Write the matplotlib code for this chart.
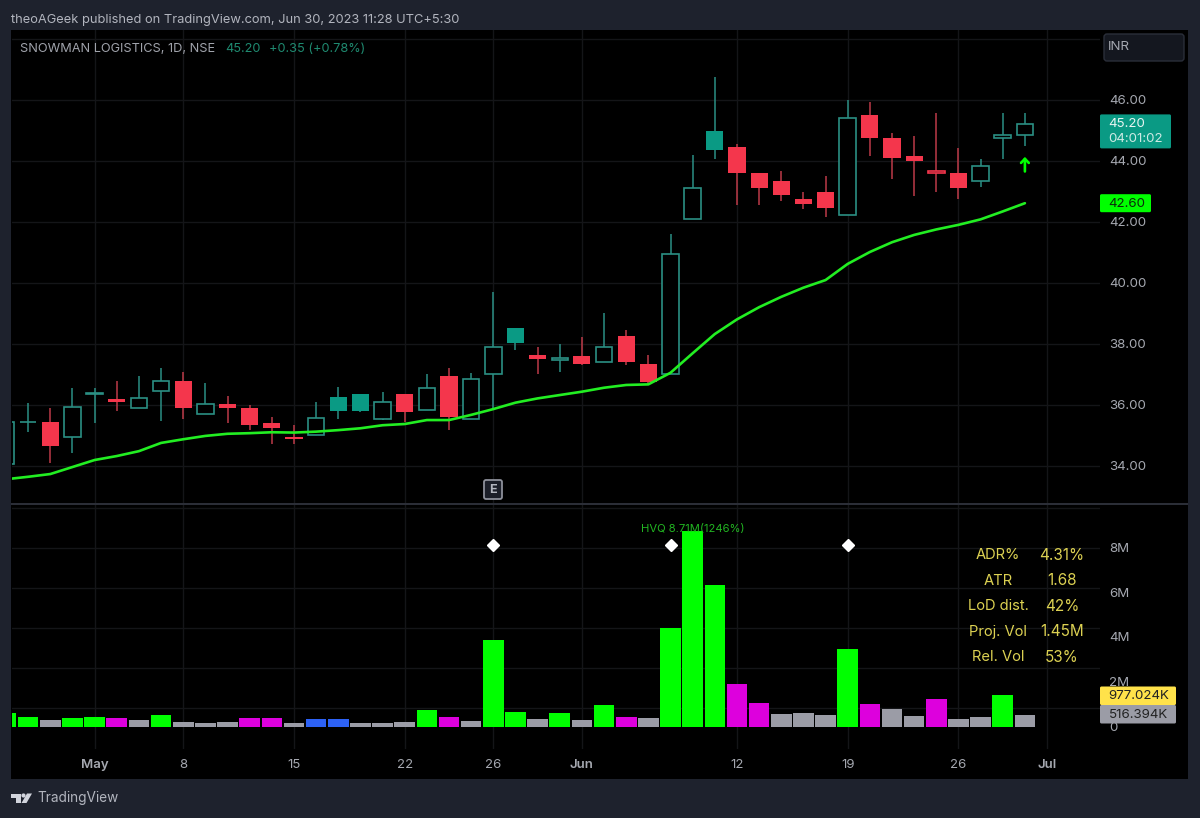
import matplotlib
matplotlib.use("Agg")
import matplotlib.pyplot as plt
from matplotlib.patches import Rectangle, FancyBboxPatch, Polygon, Circle

plt.rcParams['font.family'] = ['Inter', 'DejaVu Sans']

# ---------- data ----------
opens = [34.05,35.42,35.44,34.94,36.35,36.18,35.89,36.43,36.77,35.69,36.02,35.87,35.38,34.93,34.99,36.24,36.33,35.51,36.33,35.82,36.93,35.52,37.00,38.50,37.63,37.45,37.58,37.38,38.24,37.33,37.00,42.09,44.98,44.43,43.59,43.34,42.73,42.98,42.22,45.49,44.73,44.14,43.60,43.59,43.34,44.75,44.85]
closes = [35.44,35.44,34.63,35.93,36.37,36.07,36.22,36.77,35.87,36.02,35.89,35.33,35.23,34.88,35.57,35.78,35.78,36.07,35.76,36.53,35.58,36.83,37.87,38.03,37.49,37.51,37.32,37.87,37.38,36.75,40.93,43.09,44.34,43.59,43.09,42.88,42.58,42.43,45.38,44.73,44.08,43.98,43.67,43.09,43.83,44.82,45.20]
highs = [35.90,36.05,35.87,36.53,36.53,36.78,36.93,37.19,37.08,36.69,36.28,35.98,35.58,35.33,36.08,36.58,36.33,36.40,36.36,37.00,37.19,37.02,39.70,38.50,37.90,37.98,38.20,38.99,38.44,37.63,41.59,44.18,46.75,44.54,43.59,43.66,42.98,43.49,45.98,45.91,44.89,44.80,45.55,44.40,44.04,45.55,45.55]
lows = [33.90,35.10,34.09,34.40,35.40,35.79,35.89,35.46,35.53,35.69,35.40,35.16,34.69,34.69,34.99,35.53,35.75,35.49,35.44,35.82,35.16,35.52,35.87,37.79,37.00,37.08,37.29,37.38,37.29,36.67,37.00,42.09,44.05,42.54,42.54,42.68,42.40,42.16,42.22,44.15,43.40,42.85,42.98,42.74,43.14,44.04,44.49]
# H hollow teal, T filled teal, R filled red, r hollow red
styles = list("HHRHHRHHRHRRRRHTTHRHRHHTRHRHRRHHTRRRRRHRRRrRHHH")
sma = [33.55,33.63,33.72,33.95,34.18,34.31,34.47,34.74,34.86,34.97,35.04,35.06,35.09,35.08,35.11,35.16,35.22,35.32,35.36,35.49,35.49,35.66,35.85,36.06,36.20,36.31,36.42,36.55,36.64,36.66,37.04,37.68,38.31,38.79,39.19,39.53,39.83,40.08,40.61,41.00,41.32,41.56,41.74,41.89,42.07,42.33,42.60]
volumes = [0.62,0.42,0.28,0.39,0.42,0.39,0.30,0.52,0.19,0.18,0.19,0.39,0.37,0.18,0.36,0.33,0.15,0.18,0.21,0.76,0.45,0.27,3.88,0.67,0.33,0.62,0.30,0.97,0.42,0.37,4.41,8.71,6.30,1.89,1.06,0.55,0.62,0.52,3.45,1.01,0.79,0.49,1.23,0.33,0.42,1.40,0.516]
# G green, M magenta, A gray, B blue
vol_colors = list("GGAGGMAGAAAMMABBAAAGMAGGAGAGMAGGGMMAAAGMAAMAAGA")
diamond_idx = [22, 30, 38]
diamond_y = [8.1, 8.1, 8.1]
date_pos = [4, 8, 13, 18, 22, 26, 33, 38, 43, 47]
date_labels = ["May", "8", "15", "22", "26", "Jun", "12", "19", "26", "Jul"]
price_ticks = [34, 36, 38, 40, 42, 44, 46]
vol_ticks = [0, 2, 4, 6, 8]
stat_names = ["ADR%", "ATR", "LoD dist.", "Proj. Vol", "Rel. Vol"]
stat_values = ["4.31%", "1.68", "42%", "1.45M", "53%"]
last_close = 45.20
last_sma = 42.60
avg_vol = 0.977024
last_vol = 0.516394

# ---------- colours ----------
BG = "#1e222d"; TXT = "#a5a8b0"; GRID = "#141518"
TEAL_F = "#0a9a84"; TEAL_L = "#2b8f84"; RED_F = "#f4364c"; RED_L = "#bd3a48"
VC = {"G": "#00ff00", "M": "#dd00dd", "A": "#9b9ca6", "B": "#2d62f5"}
YEL = "#dcd152"
FS = 9.6

W, H = 1200, 818
fig = plt.figure(figsize=(12, 8.18), dpi=100, facecolor=BG)

def rect(l, t, r, b):
    return [l / W, 1 - b / H, (r - l) / W, (b - t) / H]

back = fig.add_axes([0, 0, 1, 1], zorder=-1)
back.set_xlim(0, W); back.set_ylim(H, 0); back.axis("off")
back.add_patch(Rectangle((11, 30), 1177, 749, fc="black", ec="none"))

STEP = 22.15
def xlims():
    return ((11.5 - 6) / STEP, (1100 - 6) / STEP)

ax = fig.add_axes(rect(11.5, 30, 1100, 503), zorder=1)
vx = fig.add_axes(rect(11.5, 505, 1100, 749), zorder=1)
for a in (ax, vx):
    a.patch.set_visible(False)
    a.set_xlim(*xlims())
    for s in a.spines.values():
        s.set_visible(False)
    a.yaxis.tick_right()
    a.tick_params(axis="y", length=0, pad=6.5, labelsize=FS, labelcolor=TXT)
    a.set_xticks(date_pos)
    for p in date_pos:
        a.axvline(p, color=GRID, lw=1, zorder=0)

# ---------- price pane ----------
ax.set_ylim(46 - (503 - 99.5) / 30.5, 46 + (99.5 - 30) / 30.5)
ax.set_yticks(price_ticks)
ax.set_yticklabels([f"{p:.2f}" for p in price_ticks])
ax.tick_params(axis="x", length=0, labelbottom=False)
for p in price_ticks + [48]:
    ax.axhline(p, color=GRID, lw=1, zorder=0)

BODY = 16.5 / STEP
for i, (o, c, h, l, st) in enumerate(zip(opens, closes, highs, lows, styles)):
    wick = TEAL_L if st in "HT" else RED_L
    ax.vlines(i, l, h, color=wick, lw=1.1, zorder=2)
    bot, ht = min(o, c), abs(c - o)
    if st == "H":
        ax.bar(i, ht, BODY, bot, fc="black", ec=TEAL_L, lw=1.2, zorder=3)
    elif st == "r":
        ax.bar(i, ht, BODY, bot, fc="black", ec=RED_F, lw=1.2, zorder=3)
    elif st == "T":
        ax.bar(i, ht, BODY + 0.03, bot, fc=TEAL_F, ec="none", zorder=3)
    else:
        ax.bar(i, ht, BODY + 0.03, bot, fc=RED_F, ec="none", zorder=3)

ax.plot(range(len(sma)), sma, color="#22ee22", lw=1.9, zorder=4, solid_capstyle="round")
ax.annotate("", xy=(46, 44.12), xytext=(46, 43.64),
            arrowprops=dict(arrowstyle="->,head_width=0.28,head_length=0.3", color="#00ff00", lw=1.9,
                            shrinkA=0, shrinkB=0), zorder=5)

# ---------- volume pane ----------
vx.set_ylim((726.7 - 749) / 22.43, (726.7 - 505) / 22.43)
vx.set_yticks(vol_ticks)
vx.set_yticklabels(["0", "2M", "4M", "6M", "8M"])
for g in [0.82, 2.61, 4.39, 6.18, 7.97, 9.75]:
    vx.axhline(g, color=GRID, lw=1, zorder=0)
vx.bar(range(len(volumes)), volumes, 20.6 / STEP, color=[VC[c] for c in vol_colors], zorder=2)
vx.plot(diamond_idx, diamond_y, ls="none", marker="D", ms=6.2, color="white", zorder=4)
vx.text(31, 8.83, "HVQ 8.71M(1246%)", color="#22b522", fontsize=8.1, ha="center", va="center", zorder=5)
vx.set_xticklabels(date_labels, fontsize=9.5, color=TXT)
vx.tick_params(axis="x", length=0, pad=7.5)
for lab, t in zip(vx.get_xticklabels(), date_labels):
    if not t.isdigit():
        lab.set_fontweight("semibold")

# stats table
for k, (n, v) in enumerate(zip(stat_names, stat_values)):
    y = 7.65 - k * 1.137
    vx.text(44.79, y, n, color=YEL, fontsize=10.6, ha="center", va="center", zorder=5)
    vx.text(47.67, y, v, color=YEL, fontsize=11, ha="center", va="center", zorder=5)

# ---------- overlay chrome ----------
ov = fig.add_axes([0, 0, 1, 1], zorder=10)
ov.set_xlim(0, W); ov.set_ylim(H, 0); ov.axis("off"); ov.patch.set_visible(False)

# pane divider
ov.add_patch(Rectangle((11, 503), 1177, 1.6, fc="#2b2e37", ec="none"))

def py(a, v):
    pt = a.transData.transform((0, v))
    return H - pt[1]

def tag(y0, y1, x1, col):
    ov.add_patch(FancyBboxPatch((1100, y0), x1 - 1100, y1 - y0,
                                boxstyle="round,pad=0,rounding_size=1.5", fc=col, ec="none"))

# last price tag
yc = py(ax, last_close)
tag(yc - 9.5, yc + 24.5, 1171, TEAL_F)
ov.text(1108.5, yc + 0.5, f"{last_close:.2f}", color="#e8f5f2", fontsize=FS, va="center")
ov.text(1108.5, yc + 15.5, "04:01:02", color="#cdeae4", fontsize=FS, va="center")
# SMA tag
ys = py(ax, last_sma)
tag(ys - 9, ys + 9, 1151, "#00ff00")
ov.text(1108.5, ys + 0.5, f"{last_sma:.2f}", color="#0b2a0b", fontsize=FS, va="center")
# volume tags
tag(686.5, 705, 1176, "#ffe24a")
ov.text(1108.5, 696, f"{avg_vol * 1000:.3f}K", color="#222222", fontsize=FS, va="center")
tag(705, 723.5, 1176, "#9b9ca6")
ov.text(1108.5, 714.5, f"{last_vol * 1000:.3f}K", color="#222222", fontsize=FS, va="center")

# currency box
ov.add_patch(FancyBboxPatch((1104, 34), 80, 27, boxstyle="round,pad=0,rounding_size=3",
                            fc="#14171f", ec="#2a2e39", lw=1))
ov.text(1107.5, 47.5, "INR", color="#a5a8b0", fontsize=FS, va="center")

# earnings badge
ov.add_patch(FancyBboxPatch((484, 480), 18, 19, boxstyle="round,pad=0,rounding_size=2",
                            fc="#1b1e28", ec="#8d909a", lw=1.3))
ov.text(493, 489.7, "E", color="#b2b5be", fontsize=9, fontweight="bold", ha="center", va="center")

# header and legend
ov.text(11, 19.5, "theoAGeek published on TradingView.com, Jun 30, 2023 11:28 UTC+5:30",
        color="#b2b5be", fontsize=9.26, va="center")
ov.text(20, 49, "SNOWMAN LOGISTICS, 1D, NSE", color="#a0a3ab", fontsize=9.2, va="center")
ov.text(225.5, 49, "45.20", color="#1f8a70", fontsize=9.2, va="center")
ov.text(269, 49, "+0.35 (+0.78%)", color="#1f8a70", fontsize=9.2, va="center")

# footer logo and text
LOGO = "#d1d4dc"
ov.add_patch(Polygon([(11, 793.5), (20.5, 793.5), (20.5, 803), (16, 803), (16, 797.5), (11, 797.5)], fc=LOGO, ec="none"))
ov.add_patch(Circle((23.5, 795.5), 2.1, fc=LOGO, ec="none"))
ov.add_patch(Polygon([(27, 793.5), (32, 793.5), (26.5, 803), (21.5, 803)], fc=LOGO, ec="none"))
ov.text(37, 798, "TradingView", color="#b2b5be", fontsize=9.8, va="center")

fig.savefig("out.png", dpi=100, facecolor=BG)
